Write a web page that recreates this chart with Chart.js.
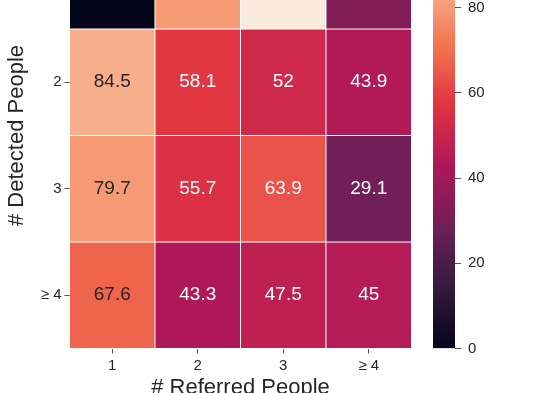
<!DOCTYPE html>
<html><head><meta charset="utf-8">
<script src="https://cdn.jsdelivr.net/npm/chart.js@4/dist/chart.umd.min.js"></script>
<style>
html,body{margin:0;padding:0;background:#fff;overflow:hidden;width:554px;height:393px;}
#wrap{position:relative;width:554px;height:393px;overflow:hidden;}
canvas{position:absolute;left:0;top:-78px;width:554px;height:500px;}
</style></head><body>
<div id="wrap"><canvas id="hm" width="554" height="500"></canvas><canvas id="cb" width="554" height="500"></canvas></div>
<script>
// ---- data ----
const referredLabels = ['1', '2', '3', '≥ 4'];
const detectedLabels = ['1', '2', '3', '≥ 4'];
const detected1 = [0, 80, 100, 33];
const detected2 = [84.5, 58.1, 52, 43.9];
const detected3 = [79.7, 55.7, 63.9, 29.1];
const detected4 = [67.6, 43.3, 47.5, 45];
const colorbarTicks = [0, 20, 40, 60, 80, 100];
const vmin = 0, vmax = 100;
// ---------------
const rows = [detected1, detected2, detected3, detected4];
const rocketStops = ['#03051a','#35193e','#701f57','#ad1759','#e13342','#f37651','#f6b48f','#faebdd'];
function hex2rgb(h){return [parseInt(h.slice(1,3),16),parseInt(h.slice(3,5),16),parseInt(h.slice(5,7),16)];}
function rocket(v){
  let t = (v - vmin) / (vmax - vmin); t = Math.max(0, Math.min(1, t));
  const n = rocketStops.length - 1; const p = t * n; const i = Math.min(n - 1, Math.floor(p)); const f = p - i;
  const a = hex2rgb(rocketStops[i]), b = hex2rgb(rocketStops[i+1]);
  return a.map((x,k)=>Math.round(x + (b[k]-x)*f));
}
function rgbStr(c){return 'rgb('+c.join(',')+')';}
function lum(c){const l=c.map(x=>{x/=255;return x<=0.03928?x/12.92:Math.pow((x+0.055)/1.055,2.4);});return 0.2126*l[0]+0.7152*l[1]+0.0722*l[2];}

const FONT = "'Liberation Sans', Arial, sans-serif";
const TXT = '#262626';
function noPad(s){ s.paddingTop = 0; s.paddingBottom = 0; s.paddingLeft = 0; s.paddingRight = 0; }

const annotPlugin = {
  id: 'annot',
  afterDatasetsDraw(chart){
    const ctx = chart.ctx;
    ctx.save();
    ctx.font = '19px ' + FONT;
    ctx.textAlign = 'center'; ctx.textBaseline = 'middle';
    chart.data.datasets.forEach((ds, di) => {
      const meta = chart.getDatasetMeta(di);
      meta.data.forEach((el, j) => {
        const v = ds.values[j];
        const c = rocket(v);
        ctx.fillStyle = lum(c) > 0.26 ? TXT : '#ffffff';
        ctx.fillText(String(v), el.x, (el.y + el.base) / 2);
      });
    });
    ctx.restore();
  }
};

new Chart(document.getElementById('hm'), {
  type: 'bar',
  data: {
    labels: referredLabels,
    datasets: rows.map((r, i) => ({
      data: r.map(() => [i, i + 1]),
      values: r,
      backgroundColor: r.map(v => rgbStr(rocket(v))),
      borderColor: '#ffffff',
      borderWidth: 0.8,
      borderSkipped: false,
      grouped: false,
      barPercentage: 1,
      categoryPercentage: 1
    }))
  },
  options: {
    responsive: false, animation: false, devicePixelRatio: 1,
    layout: { padding: { left: 0, right: 142.5, top: 0.5, bottom: 0 } },
    plugins: { legend: { display: false }, tooltip: { enabled: false } },
    scales: {
      x: {
        type: 'category',
        grid: { offset: false, drawOnChartArea: false, drawTicks: true, tickLength: 5, color: '#555', lineWidth: 1 },
        border: { display: false },
        ticks: { color: TXT, font: { family: FONT, size: 15 }, padding: 3, maxRotation: 0 },
        title: { display: true, text: '# Referred People', color: TXT, font: { family: FONT, size: 22 }, padding: { top: 0, bottom: 21 } },
        afterFit(s){ s.height = 73.5; noPad(s); }
      },
      y: {
        type: 'linear', min: 0, max: 4, reverse: true,
        afterBuildTicks(s){ s.ticks = detectedLabels.map((_, i) => ({ value: i + 0.5 })); },
        grid: { drawOnChartArea: false, drawTicks: true, tickLength: 5, color: '#555', lineWidth: 1 },
        border: { display: false },
        ticks: { color: TXT, font: { family: FONT, size: 15 }, padding: 3, callback: (v, i) => detectedLabels[i] },
        title: { display: true, text: '# Detected People', color: TXT, font: { family: FONT, size: 22 }, padding: { top: 4, bottom: 0 } },
        afterFit(s){ s.width = 69.5; noPad(s); }
      }
    }
  },
  plugins: [annotPlugin]
});

new Chart(document.getElementById('cb'), {
  type: 'bar',
  data: {
    labels: [''],
    datasets: [{
      data: [[vmin, vmax]],
      borderWidth: 0,
      barPercentage: 1, categoryPercentage: 1,
      backgroundColor(ctx){
        const chart = ctx.chart; const y = chart.scales.y;
        if (!chart.chartArea || !y) return '#000';
        const g = chart.ctx.createLinearGradient(0, y.getPixelForValue(vmin), 0, y.getPixelForValue(vmax));
        for (let k = 0; k <= 50; k++) { const v = vmin + (vmax - vmin) * k / 50; g.addColorStop(k / 50, rgbStr(rocket(v))); }
        return g;
      }
    }]
  },
  options: {
    responsive: false, animation: false, devicePixelRatio: 1,
    layout: { padding: { left: 433, right: 0, top: 0.5, bottom: 73.5 } },
    plugins: { legend: { display: false }, tooltip: { enabled: false } },
    scales: {
      x: { display: false },
      y: {
        position: 'right', min: vmin, max: vmax,
        afterBuildTicks(s){ s.ticks = colorbarTicks.map(v => ({ value: v })); },
        grid: { drawOnChartArea: false, drawTicks: true, tickLength: 6, color: '#555', lineWidth: 1 },
        border: { display: false },
        ticks: { color: TXT, font: { family: FONT, size: 15 }, padding: 7 },
        afterFit(s){ s.width = 99; noPad(s); }
      }
    }
  }
});
</script>
</body></html>
